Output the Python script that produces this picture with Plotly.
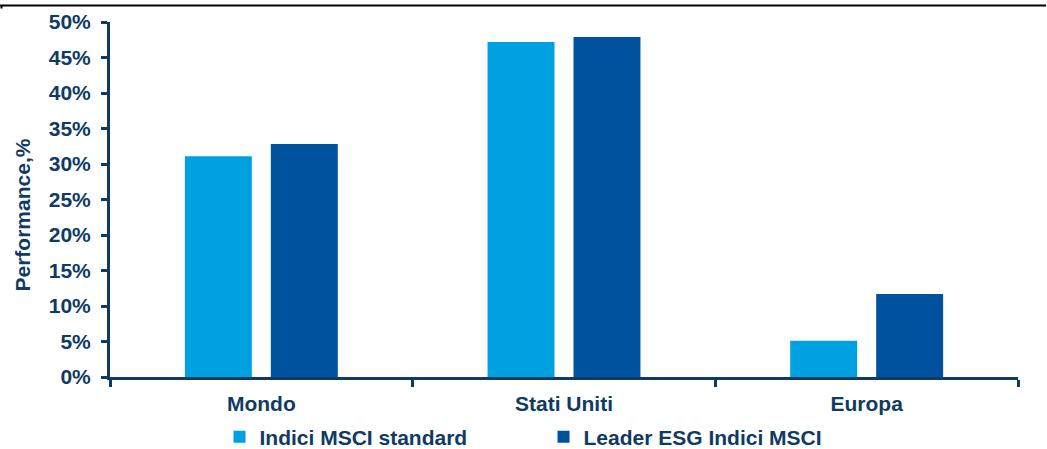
import plotly.graph_objects as go

categories = ["Mondo", "Stati Uniti", "Europa"]
standard = [31.1, 47.2, 5.1]
esg = [32.8, 47.9, 11.7]
series_names = ["Indici MSCI standard", "Leader ESG Indici MSCI"]
y_ticks = [0, 5, 10, 15, 20, 25, 30, 35, 40, 45, 50]
y_tick_labels = [f"{v}%" for v in y_ticks]
y_title = "Performance,%"

NAVY = "#0F3B63"
FONT = "Liberation Sans, Arial, sans-serif"
FS = 21

fig = go.Figure()
fig.add_trace(go.Bar(x=categories, y=standard, name=series_names[0],
                     marker=dict(color="#00A1E1", line=dict(width=0))))
fig.add_trace(go.Bar(x=categories, y=esg, name=series_names[1],
                     marker=dict(color="#00519E", line=dict(width=0))))

fig.update_layout(
    width=1047, height=449,
    margin=dict(l=110, r=29, t=22, b=72, autoexpand=False),
    paper_bgcolor="white", plot_bgcolor="white",
    barmode="group", bargap=0.432, bargroupgap=0.221,
    font=dict(family=FONT, color=NAVY, size=FS),
    showlegend=True,
    legend=dict(orientation="h", x=0.1206, xanchor="left",
                yref="container", y=0.0267, yanchor="middle",
                font=dict(family=FONT, size=FS, color=NAVY, weight="bold"),
                entrywidth=279, entrywidthmode="pixels", itemwidth=30,
                traceorder="normal"),
    annotations=[dict(text=y_title, textangle=-90, xref="paper", yref="paper",
                      x=-0.0969, y=0.455, xanchor="center", yanchor="middle",
                      showarrow=False,
                      font=dict(family=FONT, size=FS, color=NAVY, weight="bold"))],
    shapes=[
        dict(type="line", xref="paper", yref="paper", x0=-0.121, x1=1.031,
             y0=1.0465, y1=1.0465, line=dict(color="black", width=2)),
        dict(type="line", xref="paper", yref="paper", x0=-0.1195, x1=-0.1195,
             y0=1.0465, y1=1.038, line=dict(color="black", width=2)),
    ],
)
fig.update_yaxes(range=[0, 50], tickvals=y_ticks, ticktext=y_tick_labels,
                 showgrid=False, zeroline=False,
                 showline=True, linecolor=NAVY, linewidth=3,
                 ticks="outside", ticklen=6, tickwidth=3, tickcolor=NAVY,
                 ticklabelstandoff=6,
                 tickfont=dict(family=FONT, size=FS, color=NAVY, weight="bold"))
fig.update_xaxes(showgrid=False, showline=True, linecolor=NAVY, linewidth=3,
                 ticks="outside", tickson="boundaries", ticklen=7, tickwidth=3,
                 tickcolor=NAVY, ticklabelstandoff=6,
                 tickfont=dict(family=FONT, size=FS, color=NAVY, weight="bold"))

fig.write_html("out.html")
